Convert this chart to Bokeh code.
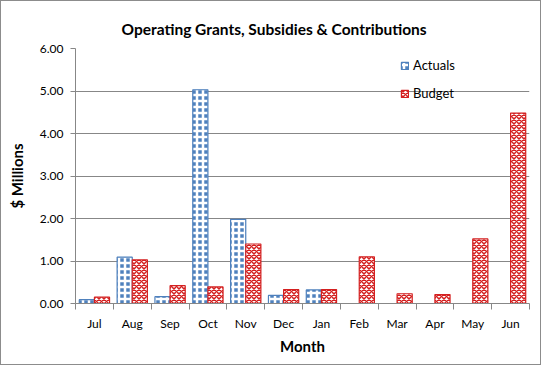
from bokeh.plotting import figure
from bokeh.models import (ColumnDataSource, FixedTicker, Range1d, NumeralTickFormatter)
from bokeh.transform import dodge
from bokeh.embed import file_html
from bokeh.resources import INLINE

title_text = "Operating Grants, Subsidies & Contributions"
months = ["Jul", "Aug", "Sep", "Oct", "Nov", "Dec", "Jan", "Feb", "Mar", "Apr", "May", "Jun"]
actuals = [0.09, 1.09, 0.16, 5.03, 1.98, 0.19, 0.32,
           float("nan"), float("nan"), float("nan"), float("nan"), float("nan")]
budget = [0.15, 1.03, 0.42, 0.39, 1.40, 0.33, 0.33, 1.10, 0.23, 0.21, 1.52, 4.48]
y_ticks = [0, 1, 2, 3, 4, 5, 6]

xs = [i + 0.5 for i in range(len(months))]
src = ColumnDataSource(dict(x=xs, month=months, actuals=actuals, budget=budget))

FONT = "Lato"
BLUE = "#4f81bd"
RED = "#d42020"
GREY = "#878787"

p = figure(frame_width=454, frame_height=255, output_backend="svg", toolbar_location=None,
           x_range=Range1d(0, len(months)), y_range=Range1d(0, 6),
           min_border_left=74, min_border_right=11, min_border_top=47, min_border_bottom=61,
           title=title_text)
p.styles = {"border": "1px solid #8c8c8c"}
p.outline_line_color = None

p.title.text_font = FONT
p.title.text_font_size = "15.5px"
p.title.text_font_style = "bold"
p.title.align = "left"
p.title.offset = 46
p.title.standoff = 22
p.title.text_color = "#000000"

p.vbar(x=dodge("x", -0.2), top="actuals", width=0.4, source=src,
       fill_color=BLUE, line_color=BLUE, line_width=1.2,
       hatch_pattern="cross", hatch_color="white", hatch_scale=6, hatch_weight=2.5,
       legend_label="Actuals")
p.vbar(x=dodge("x", 0.2), top="budget", width=0.4, source=src,
       fill_color="white", line_color=RED, line_width=1.2,
       hatch_pattern="diagonal_cross", hatch_color=RED, hatch_scale=5, hatch_weight=1.5,
       legend_label="Budget")

# axes
p.xaxis.ticker = FixedTicker(ticks=xs, minor_ticks=list(range(len(months) + 1)))
p.xaxis.major_label_overrides = {x: m for x, m in zip(xs, months)}
p.xaxis.major_tick_out = 0
p.xaxis.major_tick_in = 0
p.xaxis.minor_tick_out = 6
p.xaxis.minor_tick_in = 0
p.xaxis.minor_tick_line_color = GREY
p.xaxis.axis_line_color = GREY
p.xaxis.major_label_standoff = 6
p.xaxis.axis_label = "Month"
p.xaxis.axis_label_standoff = 3

p.yaxis.ticker = FixedTicker(ticks=y_ticks)
p.yaxis.formatter = NumeralTickFormatter(format="0.00")
p.yaxis.major_tick_out = 5
p.yaxis.major_tick_in = 0
p.yaxis.minor_tick_line_color = None
p.yaxis.axis_line_color = GREY
p.yaxis.major_tick_line_color = GREY
p.yaxis.major_label_standoff = 7
p.yaxis.axis_label = "$ Millions"
p.yaxis.axis_label_standoff = 11

for ax in (p.xaxis, p.yaxis):
    ax.major_label_text_font = FONT
    ax.major_label_text_font_size = "12px"
    ax.major_label_text_color = "#000000"
    ax.axis_label_text_font = FONT
    ax.axis_label_text_font_size = "15px"
    ax.axis_label_text_font_style = "bold"
    ax.axis_label_text_color = "#000000"

p.xgrid.visible = False
p.ygrid.grid_line_color = GREY
p.ygrid.ticker = FixedTicker(ticks=y_ticks)

lg = p.legend[0]
lg.location = (325, 202)
lg.margin = 0
lg.padding = 0
lg.spacing = 12
lg.glyph_width = 9
lg.glyph_height = 9
lg.label_height = 14
lg.label_standoff = 4
lg.label_text_font = FONT
lg.label_text_font_size = "13px"
lg.label_text_color = "#000000"
lg.background_fill_alpha = 0
lg.border_line_alpha = 0

open("out.html", "w").write(file_html(p, INLINE))
